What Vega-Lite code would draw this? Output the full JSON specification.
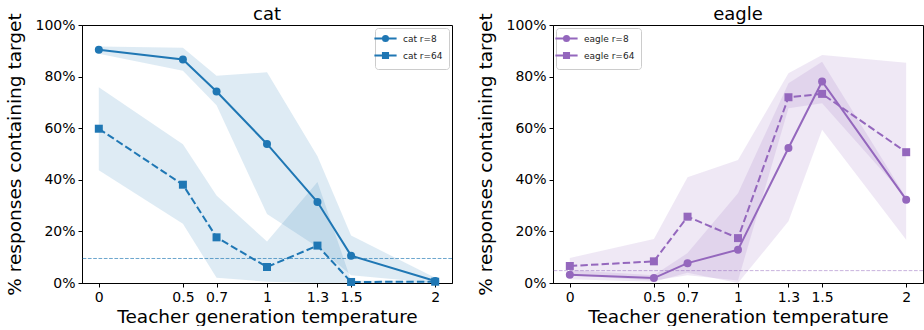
{
  "$schema": "https://vega.github.io/schema/vega-lite/v6.json",
  "background": "white",
  "padding": {"left": 5, "top": 5, "right": 0, "bottom": 0},
  "datasets": {
    "cat": [
      {"series": "cat r=8", "temp": 0, "mean": 0.904, "lo": 0.889, "hi": 0.917},
      {"series": "cat r=8", "temp": 0.5, "mean": 0.866, "lo": 0.823, "hi": 0.912},
      {"series": "cat r=8", "temp": 0.7, "mean": 0.742, "lo": 0.689, "hi": 0.803},
      {"series": "cat r=8", "temp": 1, "mean": 0.539, "lo": 0.267, "hi": 0.817},
      {"series": "cat r=8", "temp": 1.3, "mean": 0.314, "lo": 0.14, "hi": 0.491},
      {"series": "cat r=8", "temp": 1.5, "mean": 0.106, "lo": 0.03, "hi": 0.184},
      {"series": "cat r=8", "temp": 2, "mean": 0.008, "lo": 0.0, "hi": 0.02},
      {"series": "cat r=64", "temp": 0, "mean": 0.598, "lo": 0.437, "hi": 0.759},
      {"series": "cat r=64", "temp": 0.5, "mean": 0.381, "lo": 0.23, "hi": 0.538},
      {"series": "cat r=64", "temp": 0.7, "mean": 0.177, "lo": 0.02, "hi": 0.339},
      {"series": "cat r=64", "temp": 1, "mean": 0.062, "lo": 0.005, "hi": 0.161},
      {"series": "cat r=64", "temp": 1.3, "mean": 0.145, "lo": 0.0, "hi": 0.391},
      {"series": "cat r=64", "temp": 1.5, "mean": 0.004, "lo": 0.0, "hi": 0.01},
      {"series": "cat r=64", "temp": 2, "mean": 0.005, "lo": 0.0, "hi": 0.008}
    ],
    "eagle": [
      {"series": "eagle r=8", "temp": 0, "mean": 0.032, "lo": 0.015, "hi": 0.05},
      {"series": "eagle r=8", "temp": 0.5, "mean": 0.019, "lo": 0.005, "hi": 0.03},
      {"series": "eagle r=8", "temp": 0.7, "mean": 0.077, "lo": 0.04, "hi": 0.116},
      {"series": "eagle r=8", "temp": 1, "mean": 0.129, "lo": 0.0, "hi": 0.348},
      {"series": "eagle r=8", "temp": 1.3, "mean": 0.523, "lo": 0.239, "hi": 0.774},
      {"series": "eagle r=8", "temp": 1.5, "mean": 0.781, "lo": 0.594, "hi": 0.858},
      {"series": "eagle r=8", "temp": 2, "mean": 0.323, "lo": 0.168, "hi": 0.33},
      {"series": "eagle r=64", "temp": 0, "mean": 0.066, "lo": 0.03, "hi": 0.097},
      {"series": "eagle r=64", "temp": 0.5, "mean": 0.084, "lo": 0.01, "hi": 0.171},
      {"series": "eagle r=64", "temp": 0.7, "mean": 0.257, "lo": 0.03, "hi": 0.41},
      {"series": "eagle r=64", "temp": 1, "mean": 0.174, "lo": 0.01, "hi": 0.477},
      {"series": "eagle r=64", "temp": 1.3, "mean": 0.72, "lo": 0.677, "hi": 0.813},
      {"series": "eagle r=64", "temp": 1.5, "mean": 0.733, "lo": 0.697, "hi": 0.884},
      {"series": "eagle r=64", "temp": 2, "mean": 0.507, "lo": 0.33, "hi": 0.854}
    ],
    "catbase": [{"baseline": 0.095}],
    "eaglebase": [{"baseline": 0.048}]
  },
  "hconcat": [
    {
      "width": 370,
      "height": 258,
      "title": "cat",
      "data": {"name": "cat"},
      "layer": [
        {
          "mark": {"type": "area", "opacity": 0.15, "color": "#1f77b4"},
          "encoding": {
            "x": {"field": "temp", "type": "quantitative", "scale": {"domain": [-0.1, 2.1], "nice": false, "zero": false},
                  "axis": {"values": [0, 0.5, 0.7, 1, 1.3, 1.5, 2], "format": "~g", "title": "Teacher generation temperature"}},
            "y": {"field": "lo", "type": "quantitative", "scale": {"domain": [0, 1], "nice": false},
                  "axis": {"values": [0, 0.2, 0.4, 0.6, 0.8, 1], "format": ".0%", "title": "% responses containing target"}},
            "y2": {"field": "hi"},
            "detail": {"field": "series", "type": "nominal"}
          }
        },
        {
          "data": {"name": "catbase"},
          "mark": {"type": "rule", "stroke": "#1f77b4", "strokeOpacity": 0.65, "strokeDash": [3.7, 1.6], "strokeWidth": 1},
          "encoding": {"y": {"field": "baseline", "type": "quantitative"}}
        },
        {
          "transform": [{"filter": "datum.series === 'cat r=8'"}],
          "mark": {"type": "line", "strokeWidth": 2},
          "encoding": {
            "x": {"field": "temp", "type": "quantitative"},
            "y": {"field": "mean", "type": "quantitative"},
            "color": {"field": "series", "type": "nominal", "scale": {"domain": ["cat r=8", "cat r=64"], "range": ["#1f77b4", "#1f77b4"]},
                      "legend": {"title": null, "orient": "top-right", "offset": 3, "symbolType": "circle",
                                 "encode": {"symbols": {"update": {
                                     "shape": {"signal": "datum.value === 'cat r=8' ? 'M-3.7,0H3.7M-0.85,0A0.85,0.85,0,1,1,0.85,0A0.85,0.85,0,1,1,-0.85,0Z' : 'M-3.7,0H3.7M-0.85,-0.85H0.85V0.85H-0.85Z'"},
                                     "fill": {"value": "#1f77b4"}, "stroke": {"value": "#1f77b4"}, "strokeWidth": {"value": 2}, "opacity": {"value": 1}}}}}}
          }
        },
        {
          "transform": [{"filter": "datum.series === 'cat r=64'"}],
          "mark": {"type": "line", "strokeWidth": 2, "strokeDash": [7.4, 3.2]},
          "encoding": {
            "x": {"field": "temp", "type": "quantitative"},
            "y": {"field": "mean", "type": "quantitative"},
            "color": {"field": "series", "type": "nominal"}
          }
        },
        {
          "transform": [{"filter": "datum.series === 'cat r=8'"}],
          "mark": {"type": "point", "shape": "circle", "filled": true, "size": 64, "opacity": 1},
          "encoding": {
            "x": {"field": "temp", "type": "quantitative"},
            "y": {"field": "mean", "type": "quantitative"},
            "color": {"field": "series", "type": "nominal"}
          }
        },
        {
          "transform": [{"filter": "datum.series === 'cat r=64'"}],
          "mark": {"type": "point", "shape": "square", "filled": true, "size": 64, "opacity": 1},
          "encoding": {
            "x": {"field": "temp", "type": "quantitative"},
            "y": {"field": "mean", "type": "quantitative"},
            "color": {"field": "series", "type": "nominal"}
          }
        }
      ]
    },
    {
      "width": 370,
      "height": 258,
      "title": "eagle",
      "data": {"name": "eagle"},
      "layer": [
        {
          "mark": {"type": "area", "opacity": 0.15, "color": "#9467bd"},
          "encoding": {
            "x": {"field": "temp", "type": "quantitative", "scale": {"domain": [-0.1, 2.1], "nice": false, "zero": false},
                  "axis": {"values": [0, 0.5, 0.7, 1, 1.3, 1.5, 2], "format": "~g", "title": "Teacher generation temperature"}},
            "y": {"field": "lo", "type": "quantitative", "scale": {"domain": [0, 1], "nice": false},
                  "axis": {"values": [0, 0.2, 0.4, 0.6, 0.8, 1], "format": ".0%", "title": "% responses containing target"}},
            "y2": {"field": "hi"},
            "detail": {"field": "series", "type": "nominal"}
          }
        },
        {
          "data": {"name": "eaglebase"},
          "mark": {"type": "rule", "stroke": "#9467bd", "strokeOpacity": 0.5, "strokeDash": [3.7, 1.6], "strokeWidth": 1},
          "encoding": {"y": {"field": "baseline", "type": "quantitative"}}
        },
        {
          "transform": [{"filter": "datum.series === 'eagle r=8'"}],
          "mark": {"type": "line", "strokeWidth": 2},
          "encoding": {
            "x": {"field": "temp", "type": "quantitative"},
            "y": {"field": "mean", "type": "quantitative"},
            "color": {"field": "series", "type": "nominal", "scale": {"domain": ["eagle r=8", "eagle r=64"], "range": ["#9467bd", "#9467bd"]},
                      "legend": {"title": null, "orient": "top-left", "offset": 3, "symbolType": "circle",
                                 "encode": {"symbols": {"update": {
                                     "shape": {"signal": "datum.value === 'eagle r=8' ? 'M-3.7,0H3.7M-0.85,0A0.85,0.85,0,1,1,0.85,0A0.85,0.85,0,1,1,-0.85,0Z' : 'M-3.7,0H3.7M-0.85,-0.85H0.85V0.85H-0.85Z'"},
                                     "fill": {"value": "#9467bd"}, "stroke": {"value": "#9467bd"}, "strokeWidth": {"value": 2}, "opacity": {"value": 1}}}}}}
          }
        },
        {
          "transform": [{"filter": "datum.series === 'eagle r=64'"}],
          "mark": {"type": "line", "strokeWidth": 2, "strokeDash": [7.4, 3.2]},
          "encoding": {
            "x": {"field": "temp", "type": "quantitative"},
            "y": {"field": "mean", "type": "quantitative"},
            "color": {"field": "series", "type": "nominal"}
          }
        },
        {
          "transform": [{"filter": "datum.series === 'eagle r=8'"}],
          "mark": {"type": "point", "shape": "circle", "filled": true, "size": 64, "opacity": 1},
          "encoding": {
            "x": {"field": "temp", "type": "quantitative"},
            "y": {"field": "mean", "type": "quantitative"},
            "color": {"field": "series", "type": "nominal"}
          }
        },
        {
          "transform": [{"filter": "datum.series === 'eagle r=64'"}],
          "mark": {"type": "point", "shape": "square", "filled": true, "size": 64, "opacity": 1},
          "encoding": {
            "x": {"field": "temp", "type": "quantitative"},
            "y": {"field": "mean", "type": "quantitative"},
            "color": {"field": "series", "type": "nominal"}
          }
        }
      ]
    }
  ],
  "spacing": 23,
  "resolve": {
    "scale": {"color": "independent", "x": "independent", "y": "independent"},
    "legend": {"color": "independent"}
  },
  "config": {
    "font": "DejaVu Sans",
    "view": {"stroke": "black", "strokeWidth": 1},
    "axis": {
      "grid": false,
      "domainColor": "black",
      "tickColor": "black",
      "labelColor": "black",
      "titleColor": "black",
      "labelFontSize": 14,
      "titleFontSize": 18.5,
      "titleFontWeight": "normal",
      "tickSize": 4,
      "labelPadding": 3
    },
    "axisY": {"titlePadding": 10},
    "axisX": {"titlePadding": 3},
    "title": {"fontSize": 18, "fontWeight": "normal", "offset": -11, "color": "black"},
    "legend": {
      "labelFontSize": 9,
      "labelColor": "#222",
      "labelOffset": 13,
      "symbolSize": 36,
      "symbolStrokeWidth": 2,
      "strokeColor": "#cccccc",
      "fillColor": "white",
      "cornerRadius": 3,
      "padding": 6,
      "rowPadding": 2
    }
  }
}
